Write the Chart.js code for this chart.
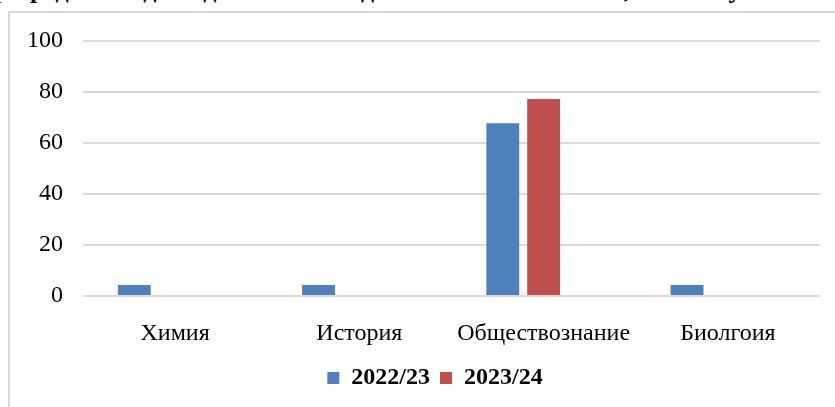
<!DOCTYPE html>
<html>
<head>
<meta charset="utf-8">
<script src="https://cdn.jsdelivr.net/npm/chart.js@4"></script>
<style>
  html, body { margin: 0; padding: 0; background: #fff; }
  body { width: 835px; height: 407px; position: relative; overflow: hidden; }
  #title {
    position: absolute; left: -6px; top: -23px; white-space: nowrap;
    font: bold 26px "Liberation Serif", serif; line-height: 26px; color: #000;
  }
  #frame {
    position: absolute; left: 8px; top: 11px; width: 900px; height: 500px;
    border-left: 2px solid #d9d9d9; border-top: 2px solid #d9d9d9;
  }
  #wrap { position: absolute; left: 0; top: 0; width: 835px; height: 407px; }
</style>
</head>
<body>
<div id="title">р предметов для сдачи ГИА по данным ОО за 2022/23, 2023/24 учебные годы</div>
<div id="frame"></div>
<div id="wrap"><canvas id="chart"></canvas></div>
<script>
// subjects and percentages
const subjects = ['Химия', 'История', 'Обществознание', 'Биолгоия'];
const year1 = [4.3, 4.3, 67.7, 4.3];
const year2 = [0, 0, 77.3, 0];
const year3 = [0, 0, 0, 0];   // empty third series, not in legend
const yTicks = [0, 20, 40, 60, 80, 100];

const serif = '"Liberation Serif", "Times New Roman", serif';

const ctx = document.getElementById('chart').getContext('2d');

// nudge the legend a bit to the right, like in the original
const legendShift = {
    id: 'legendShift',
    afterLayout(chart) {
        chart.legend.left += 25;
        chart.legend.right += 25;
    }
};

let mychart = new Chart(ctx, {
    type: 'bar',
    data: {
        labels: subjects,
        datasets: [
            { label: '2022/23', data: year1, backgroundColor: '#4f81bd' },
            { label: '2023/24', data: year2, backgroundColor: '#c0504d' },
            { label: '', data: year3, backgroundColor: '#9bbb59' }
        ]
    },
    options: {
        responsive: true,
        maintainAspectRatio: false,
        animation: false,
        layout: { padding: { left: 0, right: 15, top: 41, bottom: 7 } },
        datasets: {
            bar: { categoryPercentage: 0.665, barPercentage: 0.805 }
        },
        scales: {
            x: {
                grid: { display: false },
                border: { display: false },
                afterFit(scale) { scale.height = 60; },
                ticks: { color: '#000', font: { family: serif, size: 24 }, padding: 15 }
            },
            y: {
                min: 0,
                max: 100,
                afterBuildTicks(scale) {
                    scale.ticks = yTicks.map(v => ({ value: v }));
                },
                afterFit(scale) { scale.width = 83; },
                grid: { color: '#d9d9d9', lineWidth: 2, drawTicks: false },
                border: { display: false },
                ticks: { color: '#000', font: { family: serif, size: 24 }, padding: 20 }
            }
        },
        plugins: {
            legend: {
                position: 'bottom',
                labels: {
                    color: '#000',
                    font: { family: serif, size: 24, weight: 'bold' },
                    boxWidth: 12,
                    boxHeight: 12,
                    padding: 10,
                    filter: item => item.text !== ''
                }
            },
            tooltip: { enabled: false }
        }
    },
    plugins: [legendShift]
});
</script>
</body>
</html>
